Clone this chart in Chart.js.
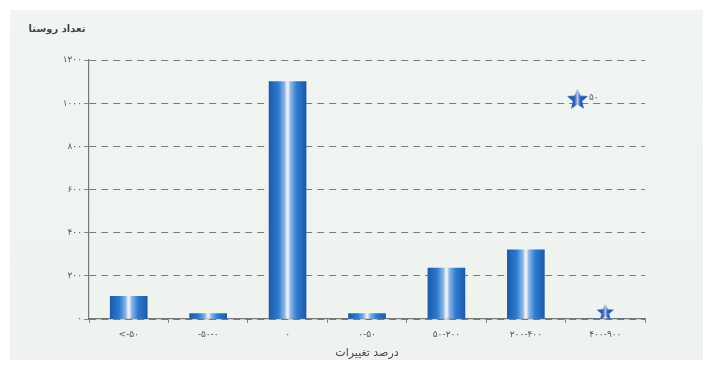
<!DOCTYPE html>
<html><head><meta charset="utf-8">
<script src="https://cdn.jsdelivr.net/npm/chart.js@4/dist/chart.umd.min.js"></script>
<style>
html,body{margin:0;padding:0;background:#fff;}
#wrap{position:absolute;left:10px;top:10px;width:693px;height:350px;background:linear-gradient(180deg,#f1f5f2 0%,#eef3ef 100%);}
#c{position:absolute;left:0;top:0;}
</style></head>
<body>
<div id="wrap"></div>
<canvas id="c" width="713" height="367"></canvas>
<script>
const categories = ['<-۵۰','-۵۰-۰','۰','۰-۵۰','۵۰-۲۰۰','۲۰۰-۴۰۰','۴۰۰-۹۰۰'];
const villageCounts = [105, 25, 1100, 25, 236, 320, 0];
const starMarks = [null, null, null, null, null, null, 35];
const yTickLabels = ['۰','۲۰۰','۴۰۰','۶۰۰','۸۰۰','۱۰۰۰','۱۲۰۰'];
const yTitle = 'تعداد روستا';
const xTitle = 'درصد تغییرات';
const legendText = '۵۰';

const FONT = "'DejaVu Sans', sans-serif";
const BAR_W = 37;

function starCanvas(size){
  const cv = document.createElement('canvas');
  cv.width = size; cv.height = size;
  const g = cv.getContext('2d');
  const cx=size/2, cy=size/2+1, R=size/2-0.5, r=R*0.45;
  g.beginPath();
  for(let i=0;i<10;i++){
    const a = -Math.PI/2 + i*Math.PI/5;
    const rr = i%2===0?R:r;
    g.lineTo(cx+rr*Math.cos(a), cy+rr*Math.sin(a));
  }
  g.closePath();
  const gr = g.createLinearGradient(0,0,size,0);
  gr.addColorStop(0,'#1d4696'); gr.addColorStop(0.38,'#2f62b8'); gr.addColorStop(0.5,'#b9c9ea'); gr.addColorStop(0.62,'#2f62b8'); gr.addColorStop(1,'#1d4696');
  g.fillStyle = gr; g.fill();
  return cv;
}
const starImg = starCanvas(19);
const legendStar = starCanvas(23);

function barGradient(ctx){
  const chart = ctx.chart;
  const xs = chart.scales && chart.scales.x;
  if(!xs || ctx.dataIndex === undefined) return '#2f73c4';
  const cx = xs.getPixelForValue(ctx.dataIndex);
  if(!isFinite(cx)) return '#2f73c4';
  const g = chart.ctx.createLinearGradient(cx-BAR_W/2,0,cx+BAR_W/2,0);
  g.addColorStop(0,'#1d5aa8');
  g.addColorStop(0.25,'#2d7bd0');
  g.addColorStop(0.42,'#8fb6e6');
  g.addColorStop(0.48,'#e6eef8');
  g.addColorStop(0.52,'#e6eef8');
  g.addColorStop(0.58,'#8fb6e6');
  g.addColorStop(0.75,'#2d7bd0');
  g.addColorStop(1,'#1d5aa8');
  return g;
}

const textPlugin = {
  id:'texts',
  afterDraw(chart){
    const c = chart.ctx;
    c.save();
    c.fillStyle = '#444';
    c.font = "bold 10px " + FONT;
    c.textAlign = 'center'; c.textBaseline = 'middle';
    c.fillText(yTitle, 57, 29);
    c.font = "11px " + FONT;
    c.fillText(xTitle, (chart.chartArea.left+chart.chartArea.right)/2, 353);
    const ly = chart.scales.y.getPixelForValue(1000) - 5;
    c.drawImage(legendStar, 566, ly-11);
    c.font = "9px " + FONT;
    c.fillStyle = '#555';
    c.textAlign = 'left';
    c.fillText(legendText, 589, ly-1);
    c.restore();
  }
};

new Chart(document.getElementById('c'), {
  data:{
    labels: categories,
    datasets:[
      {type:'bar', data: villageCounts, backgroundColor: barGradient, barThickness: BAR_W, borderWidth:0, order:2},
      {type:'line', data: starMarks, showLine:false, pointStyle: starImg, pointRadius:9, order:1}
    ]
  },
  options:{
    responsive:false, animation:false,
    layout:{padding:{left:0,right:68,top:60,bottom:0}},
    plugins:{legend:{display:false}, tooltip:{enabled:false}},
    scales:{
      x:{
        offset:true,
        grid:{display:true, offset:true, drawOnChartArea:false, drawTicks:true, tickLength:4, color:'#888', lineWidth:1},
        border:{display:true, color:'#777', width:1.2},
        ticks:{font:{size:9, family:FONT}, color:'#555', padding:6},
        afterFit(s){ s.height = 48; }
      },
      y:{
        min:0, max:1200,
        ticks:{stepSize:200, font:{size:9, family:FONT}, color:'#555', padding:2,
          callback:(v)=> yTickLabels[Math.round(v/200)]},
        grid:{color:'#7a7a7a', lineWidth:1, tickLength:5, tickColor:'#888'},
        border:{display:true, color:'#777', width:1.2, dash:[7,5]},
        afterFit(s){ s.width = 89; }
      }
    }
  },
  plugins:[textPlugin]
});
</script>
</body></html>
